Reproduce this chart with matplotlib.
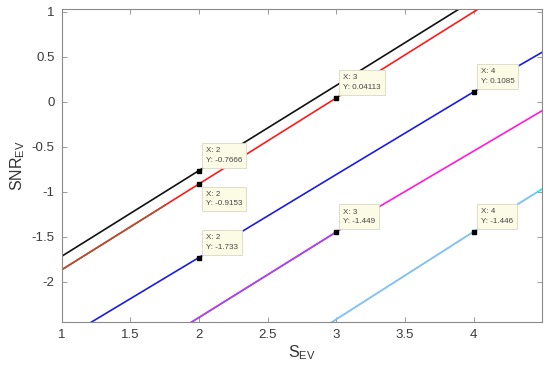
import matplotlib
matplotlib.use("Agg")
import matplotlib.pyplot as plt

plt.rcParams["font.family"] = ["Liberation Sans", "DejaVu Sans"]
plt.rcParams["mathtext.fontset"] = "custom"
plt.rcParams["mathtext.rm"] = "Liberation Sans"
plt.rcParams["mathtext.it"] = "Liberation Sans:italic"

# S_EV sample points and SNR_EV values
s_ev      = [1.0, 2.0, 3.0, 4.0, 4.5]
snr_black = [-1.72, -0.7666, 0.18, 1.13, 1.61]
snr_red   = [-1.87, -0.9153, 0.04113, 0.997, 1.475]
snr_blue  = [-2.65, -1.733, -0.81, 0.1085, 0.55]
snr_mag   = [-3.35, -2.40, -1.449, -0.55, -0.10]
snr_cyan  = [-4.38, -3.40, -2.42, -1.446, -0.97]

# lower parts of some curves drawn in a second colour
brown_x  = [1.0, 1.75]
brown_y  = [-1.87, -1.155]
purple_x = [1.0, 2.0, 3.0]
purple_y = [-3.35, -2.40, -1.449]
lblue_x  = [2.0, 3.0, 4.0, 4.45]
lblue_y  = [-3.40, -2.42, -1.446, -1.02]

# data tips
tips_x = [2, 2, 2, 3, 4, 3, 4]
tips_y = [-0.7666, -0.9153, -1.733, 0.04113, 0.1085, -1.449, -1.446]
tips_txt = ["-0.7666", "-0.9153", "-1.733", "0.04113", "0.1085", "-1.449", "-1.446"]
tips_up = [True, False, True, True, True, True, True]

fig = plt.figure(figsize=(5.5, 3.74), dpi=100)
ax = fig.add_axes([0.112, 0.139, 0.874, 0.837])

lw = 1.2
ax.plot(s_ev, snr_black, color="#111111", lw=lw)
ax.plot(s_ev, snr_red, color="#ff1a1a", lw=lw)
ax.plot(brown_x, brown_y, color="#a8583a", lw=lw)
ax.plot(s_ev, snr_blue, color="#1c1ce0", lw=lw)
ax.plot(s_ev, snr_mag, color="#ff1ad9", lw=lw)
ax.plot(purple_x, purple_y, color="#9b4fe6", lw=lw)
ax.plot(s_ev, snr_cyan, color="#22e5f0", lw=lw)
ax.plot(lblue_x, lblue_y, color="#a3b6f2", lw=1.0)

for x, y, t, up in zip(tips_x, tips_y, tips_txt, tips_up):
    ax.plot([x], [y], marker="s", ms=3.5, color="black", zorder=5)
    off = (5, 5) if up else (5, -5)
    va = "bottom" if up else "top"
    ax.annotate("X: %d\nY: %s" % (x, t), (x, y), xytext=off,
                textcoords="offset points", fontsize=5.8, va=va, ha="left",
                color="#444444", linespacing=1.5,
                bbox=dict(boxstyle="square,pad=0.5", fc="#fcfce6",
                          ec="#d8d8c8", lw=0.6), zorder=6)

ax.set_xlim(1, 4.5)
ax.set_ylim(-2.45, 1.03)
ax.set_xticks([1, 1.5, 2, 2.5, 3, 3.5, 4])
ax.set_xticklabels(["1", "1.5", "2", "2.5", "3", "3.5", "4"])
ax.set_yticks([-2, -1.5, -1, -0.5, 0, 0.5, 1])
ax.set_yticklabels(["-2", "-1.5", "-1", "-0.5", "0", "0.5", "1"])
ax.tick_params(direction="in", top=True, right=True, length=3.5,
               width=0.6, colors="#8a8a8a", labelcolor="#3a3a3a",
               labelsize=9.5, pad=5)
for sp in ax.spines.values():
    sp.set_color("#8a8a8a")
    sp.set_linewidth(0.8)

ax.set_xlabel(r"S$_{\mathrm{EV}}$", fontsize=11.5, color="#333333", labelpad=2)
ax.set_ylabel(r"SNR$_{\mathrm{EV}}$", fontsize=11.5, color="#333333", labelpad=3)

fig.savefig("out.png", dpi=100)
plt.close()
